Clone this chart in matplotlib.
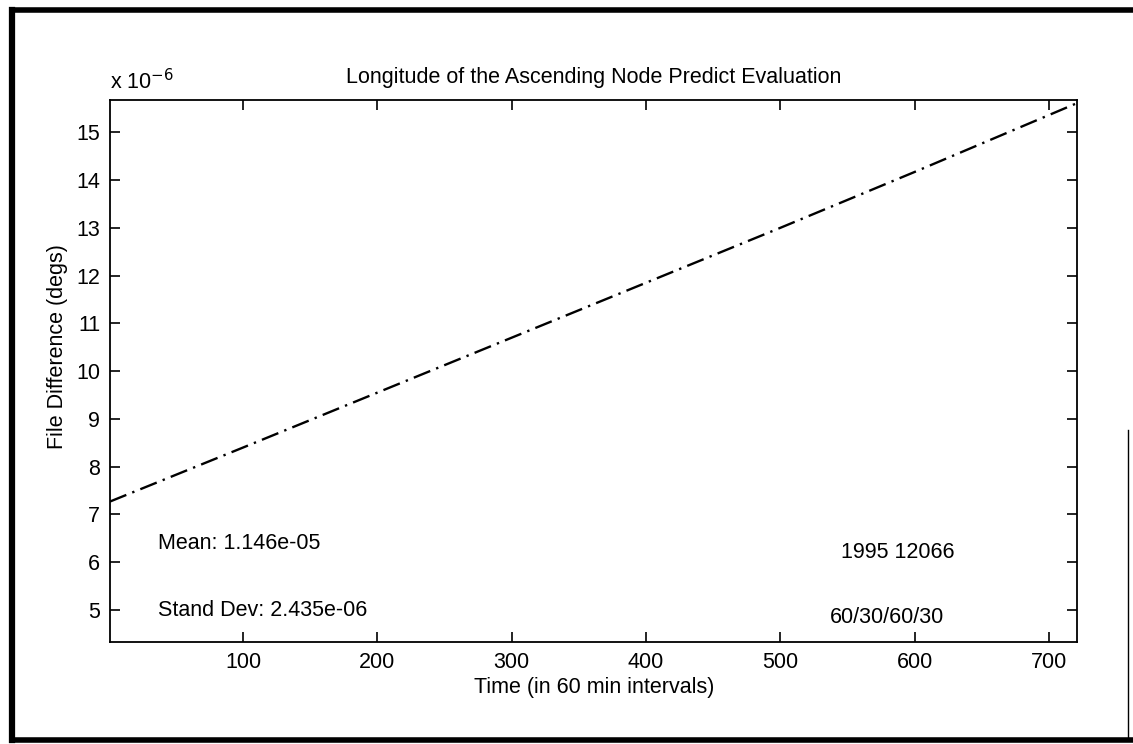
import matplotlib
matplotlib.use("Agg")
import matplotlib.pyplot as plt
from matplotlib.lines import Line2D

# data (values in units of 1e-6 degs)
hours = [1, 100, 200, 300, 400, 500, 600, 720]
file_diff = [7.27, 8.40, 9.55, 10.70, 11.85, 13.0, 14.17, 15.6]
x_ticks = [100, 200, 300, 400, 500, 600, 700]
y_ticks = [5, 6, 7, 8, 9, 10, 11, 12, 13, 14, 15]

plt.rcParams['font.family'] = ['Liberation Sans', 'DejaVu Sans']
FS = 15.5

fig = plt.figure(figsize=(11.33, 7.44), dpi=100)
ax = fig.add_axes([0.097, 0.137, 0.854, 0.729])

ax.plot(hours, file_diff, color='black', lw=1.7, dashes=[7.5, 2.7, 1, 2.7])

ax.set_xlim(1, 721)
ax.set_ylim(4.33, 15.68)
ax.set_xticks(x_ticks)
ax.set_yticks(y_ticks)
ax.tick_params(direction='in', length=7, width=1.2, top=True, right=True,
               labelsize=FS, pad=7, colors='black')
for s in ax.spines.values():
    s.set_linewidth(1.3)

ax.set_title('Longitude of the Ascending Node Predict Evaluation', fontsize=FS, pad=12)
ax.set_xlabel('Time (in 60 min intervals)', fontsize=FS, labelpad=3)
ax.set_ylabel('File Difference (degs)', fontsize=FS)
ax.yaxis.set_label_coords(-0.043, 0.545)
ax.text(0.0, 1.01, r'x 10$^{-6}$', transform=ax.transAxes, fontsize=FS,
        ha='left', va='bottom')

ax.text(37, 6.4, 'Mean: 1.146e-05', fontsize=FS, va='center')
ax.text(37, 5.0, 'Stand Dev: 2.435e-06', fontsize=FS, va='center')
ax.text(545, 6.2, '1995 12066', fontsize=FS, va='center')
ax.text(537, 4.85, '60/30/60/30', fontsize=FS, va='center')

# scanned page frame
W, H = 1133, 744
def fl(x0, y0, x1, y1, lw):
    fig.add_artist(Line2D([x0 / W, x1 / W], [1 - y0 / H, 1 - y1 / H],
                          color='black', lw=lw, transform=fig.transFigure))
fl(12, 10, 1133, 10, 4)
fl(12, 10, 12, 740, 4.5)
fl(12, 740, 1133, 740, 4)
fl(1128, 430, 1128, 740, 1)

fig.savefig('out.png', dpi=100)
